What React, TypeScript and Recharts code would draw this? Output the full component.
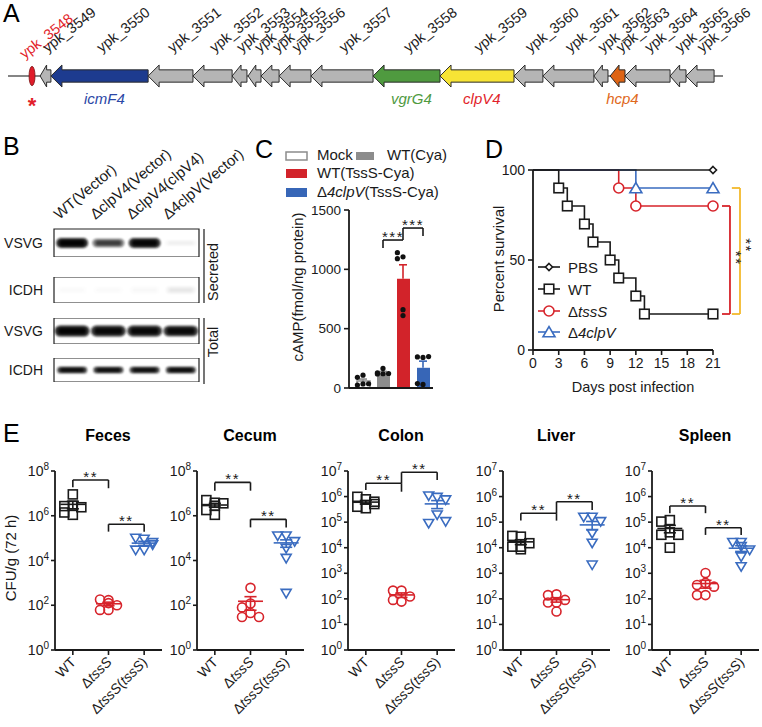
import React from 'react'
import {
  Bar,
  Cell,
  ComposedChart,
  Line,
  LineChart,
  ReferenceArea,
  ReferenceDot,
  ReferenceLine,
  Scatter,
  ScatterChart,
  XAxis,
  YAxis,
} from 'recharts'

const FONT = '"Liberation Sans", Arial, Helvetica, sans-serif'
const INK = '#1a1a1a'
const RED = '#d7242b'
const BLUE = '#3a6cc0'
const GRAY = '#8c8c8c'
const GOLD = '#f3b92c'

// ---- A: T6SS-4 locus, positions in kb from the left end of the drawn region
const geneLoci = [
  'ypk_3548', 'ypk_3549', 'ypk_3550', 'ypk_3551', 'ypk_3552', 'ypk_3553', 'ypk_3554',
  'ypk_3555', 'ypk_3556', 'ypk_3557', 'ypk_3558', 'ypk_3559', 'ypk_3560', 'ypk_3561',
  'ypk_3562', 'ypk_3563', 'ypk_3564', 'ypk_3565', 'ypk_3566',
]
const geneStart = [0.78, 1.19, 1.59, 5.19, 6.85, 8.3, 8.89, 9.37, 10.04, 11.22, 13.52, 16.0, 18.74, 19.81, 21.7, 22.3, 22.85, 24.52, 25.11]
const geneEnd = [1.0, 1.59, 5.19, 6.85, 8.3, 8.85, 9.37, 10.04, 11.22, 13.52, 16.0, 18.74, 19.81, 21.7, 22.22, 22.85, 24.52, 25.11, 26.15]
const geneAlias = ['', '', 'icmF4', '', '', '', '', '', '', '', 'vgrG4', 'clpV4', '', '', '', 'hcp4', '', '', '']
const locusLength = 26.48

// ---- B: western blot, relative band signal per lane
const laneLabels = ['WT(Vector)', 'ΔclpV4(Vector)', 'ΔclpV4(clpV4)', 'Δ4clpV(Vector)']
const blotSecretedVSVG = [1.0, 0.6, 0.97, 0.03]
const blotSecretedICDH = [0.01, 0.01, 0.015, 0.05]
const blotTotalVSVG = [1.0, 0.95, 0.95, 0.93]
const blotTotalICDH = [0.9, 0.88, 0.88, 0.9]

// ---- C: cAMP (fmol/ng protein)
const cGroups = ['Mock', 'WT(Cya)', 'WT(TssS-Cya)', 'Δ4clpV(TssS-Cya)']
const cMock = [108, 90, 34, 25, 36]
const cWTCya = [165, 128, 122, 120, 118]
const cWTTssS = [1105, 1140, 1090, 660, 610]
const cClpV = [258, 262, 265, 30, 37]
const cTicks = [0, 500, 1000, 1500]

// ---- D: percent survival
const survPBS = [{ day: 0, pct: 100 }, { day: 21, pct: 100 }]
const survWT = [
  { day: 0, pct: 100 }, { day: 3, pct: 90 }, { day: 4, pct: 80 }, { day: 6, pct: 70 }, { day: 7, pct: 60 },
  { day: 9, pct: 50 }, { day: 10, pct: 40 }, { day: 12, pct: 30 }, { day: 13, pct: 20 }, { day: 21, pct: 20 },
]
const survTssS = [{ day: 0, pct: 100 }, { day: 10, pct: 90 }, { day: 12, pct: 80 }, { day: 21, pct: 80 }]
const survClpV = [{ day: 0, pct: 100 }, { day: 12, pct: 90 }, { day: 21, pct: 90 }]
const dayTicks = [0, 3, 6, 9, 12, 15, 18, 21]
const pctTicks = [0, 50, 100]

// ---- E: CFU/g at 72 h
const eGroups = ['WT', 'ΔtssS', 'ΔtssS(tssS)']
const fecesWT = [9.0e6, 2.8e6, 2.7e6, 2.4e6, 1.1e6, 1.4e6]
const fecesTssS = [170, 180, 100, 125, 62, 62]
const fecesComp = [8.9e4, 9.8e4, 6.3e4, 2.9e4, 2.9e4, 5.0e4]
const cecumWT = [3.8e6, 5.0e6, 3.6e6, 1.8e6, 1.1e6, 2.8e6]
const cecumTssS = [600, 120, 80, 45, 30, 30]
const cecumComp = [1.25e5, 1.25e5, 7.0e4, 3.5e4, 1.25e4, 340]
const colonWT = [7.8e5, 9.8e5, 3.5e5, 4.0e5, 5.1e5, 6.3e5]
const colonTssS = [210, 210, 123, 78, 91]
const colonComp = [9.3e5, 1.05e6, 7.4e5, 1.9e5, 8.9e4, 1.05e5]
const liverWT = [2.7e4, 2.9e4, 1.5e4, 8.7e3, 1.1e4, 1.1e4]
const liverTssS = [150, 140, 91, 72, 72, 32]
const liverComp = [1.55e5, 1.55e5, 1.05e5, 3.6e4, 1.5e4, 2.1e3]
const spleenWT = [1.2e5, 1.05e5, 4.0e4, 3.2e4, 3.2e4, 1.0e4]
const spleenTssS = [1030, 420, 350, 300, 140, 140]
const spleenComp = [1.6e4, 1.6e4, 8.1e3, 1.1e4, 4.4e3, 1.8e3]
const decades8 = [1, 1e1, 1e2, 1e3, 1e4, 1e5, 1e6, 1e7, 1e8]
const decades7 = [1, 1e1, 1e2, 1e3, 1e4, 1e5, 1e6, 1e7]

const AX = { stroke: INK, strokeWidth: 1.8 }
const TK = { stroke: INK, strokeWidth: 1.6 }
const at = (left: number, top: number) => ({ position: 'absolute' as const, left, top })

const mean = (a: number[]) => a.reduce((s, v) => s + v, 0) / a.length
const sem = (a: number[]) => {
  const m = mean(a)
  return Math.sqrt(a.reduce((s, v) => s + (v - m) ** 2, 0) / (a.length - 1) / a.length)
}

// simple beeswarm: pick the nearest free horizontal slot for each point
const SLOTS = [0, -1, 1, -0.5, 0.5, -1.5, 1.5]
function swarm(vals: number[], center: number, toPx: (v: number) => number, unitPx: number, size: number) {
  const placed: { dx: number; py: number }[] = []
  return vals.map((v) => {
    const py = toPx(v)
    let best = 0
    let bestHits = Infinity
    for (const s of SLOTS) {
      const dx = s * size
      const hits = placed.filter((q) => Math.abs(q.py - py) < size && Math.abs(q.dx - dx) < size * 0.95).length
      if (hits < bestHits) {
        best = dx
        bestHits = hits
      }
      if (hits === 0) break
    }
    placed.push({ dx: best, py })
    return center + best / unitPx
  })
}

const ITALIC = /(4clpV|clpV4|tssS)/
function Rich({ text }: { text: string }) {
  return (
    <>
      {text
        .split(ITALIC)
        .filter(Boolean)
        .map((s, k) => (
          <tspan key={k} fontStyle={ITALIC.test(s) ? 'italic' : undefined}>
            {s}
          </tspan>
        ))}
    </>
  )
}

function Marker({ kind, cx, cy, color, fill, size }: any) {
  const h = size / 2
  const common = { fill, stroke: color, strokeWidth: 1.6 }
  if (kind === 'square') return <rect x={cx - h} y={cy - h} width={size} height={size} {...common} />
  if (kind === 'circle') return <circle cx={cx} cy={cy} r={h} {...common} />
  if (kind === 'diamond')
    return <polygon points={`${cx},${cy - h} ${cx + h},${cy} ${cx},${cy + h} ${cx - h},${cy}`} {...common} />
  if (kind === 'triUp')
    return <polygon points={`${cx - h},${cy + h * 0.8} ${cx + h},${cy + h * 0.8} ${cx},${cy - h * 0.9}`} {...common} />
  return <polygon points={`${cx - h},${cy - h * 0.8} ${cx + h},${cy - h * 0.8} ${cx},${cy + h * 0.9}`} {...common} />
}

// ---------------- A ----------------
const geneFill: Record<string, string> = { icmF4: '#1d3b8f', vgrG4: '#4f9a3f', clpV4: '#f7e435', hcp4: '#de6414' }
const aliasColor: Record<string, string> = { icmF4: '#2b47a6', vgrG4: '#4f9a3f', clpV4: '#e21f2b', hcp4: '#e0691c' }

function GeneArrow(p: any) {
  const { x, y, width, height, fill, lens } = p
  const mid = y + height / 2
  if (lens) return <ellipse cx={x + width / 2} cy={mid} rx={width / 2} ry={height * 0.44} fill={fill} stroke="#7a1010" strokeWidth={0.8} />
  const half = height * 0.28
  const head = Math.min(11, width * 0.6)
  const pts = [
    [x, mid], [x + head, y], [x + head, mid - half], [x + width, mid - half],
    [x + width, mid + half], [x + head, mid + half], [x + head, y + height],
  ]
  return <polygon points={pts.map((q) => q.join(',')).join(' ')} fill={fill} stroke="#2b2b2b" strokeWidth={1} />
}

function PanelA() {
  const backbone: [number, number][] = []
  let cursor = 0
  geneStart.forEach((s, i) => {
    if (s > cursor + 0.01) backbone.push([cursor, s])
    cursor = Math.max(cursor, geneEnd[i])
  })
  if (locusLength > cursor) backbone.push([cursor, locusLength])

  const labelX: number[] = []
  geneStart.forEach((s, i) => {
    const c = (s + geneEnd[i]) / 2 + 0.07
    labelX.push(i === 0 ? c - 0.35 : Math.max(c, labelX[i - 1] + 0.67))
  })
  const tags = geneLoci.map((locus, i) => ({ x: labelX[i], y: i === 0 ? 1.85 : 2.55, locus, first: i === 0 }))
  const names = geneAlias
    .map((alias, i) => ({ x: (geneStart[i] + geneEnd[i]) / 2 + 0.18, y: -3.11, alias }))
    .filter((d) => d.alias)

  return (
    <div style={at(0, 0)}>
      <ComposedChart width={762} height={130} margin={{ top: 22, right: 39, bottom: 0, left: 8 }}>
        <XAxis dataKey="x" type="number" domain={[0, locusLength]} hide />
        <YAxis dataKey="y" type="number" domain={[-6, 6]} hide />
        {backbone.map(([a, b], k) => (
          <ReferenceLine key={`bb${k}`} segment={[{ x: a, y: 0 }, { x: b, y: 0 }]} stroke="#333" strokeWidth={1.2} />
        ))}
        {geneLoci.map((locus, i) => (
          <ReferenceArea
            key={locus}
            x1={geneStart[i]}
            x2={geneEnd[i]}
            y1={-1.22}
            y2={1.22}
            shape={(p: any) => (
              <GeneArrow {...p} lens={i === 0} fill={i === 0 ? '#e01c2a' : geneFill[geneAlias[i]] || '#b5b5b5'} />
            )}
          />
        ))}
        <Scatter
          data={tags}
          isAnimationActive={false}
          shape={(p: any) => (
            <text
              transform={`translate(${p.cx},${p.cy}) rotate(-38)`}
              fontSize={14.5}
              fontFamily={FONT}
              fill={p.payload.first ? '#e21f2b' : '#222'}
            >
              {p.payload.locus}
            </text>
          )}
        />
        <Scatter
          data={names}
          isAnimationActive={false}
          shape={(p: any) => (
            <text x={p.cx} y={p.cy} textAnchor="middle" fontSize={15} fontStyle="italic" fontFamily={FONT} fill={aliasColor[p.payload.alias]}>
              {p.payload.alias}
            </text>
          )}
        />
        <ReferenceDot
          x={(geneStart[0] + geneEnd[0]) / 2}
          y={-4.1}
          shape={(p: any) => (
            <text x={p.cx} y={p.cy} textAnchor="middle" fontSize={22} fontWeight="bold" fontFamily={FONT} fill="#e21f2b">
              *
            </text>
          )}
        />
      </ComposedChart>
    </div>
  )
}

// ---------------- B ----------------
const strips = [
  { label: 'VSVG', signal: blotSecretedVSVG, top: 229, h: 28, bandW: 32, bandH: 10, lanes: true },
  { label: 'ICDH', signal: blotSecretedICDH, top: 277, h: 26, bandW: 30, bandH: 12, lanes: false },
  { label: 'VSVG', signal: blotTotalVSVG, top: 318, h: 26, bandW: 35, bandH: 11, lanes: false },
  { label: 'ICDH', signal: blotTotalICDH, top: 358, h: 24, bandW: 30, bandH: 7, lanes: false },
]
const LANES_H = 100

function LaneTick(p: any) {
  return (
    <text transform={`translate(${p.x - 13},${LANES_H - 9}) rotate(-40)`} fontSize={15} fontFamily={FONT} fill={INK}>
      {laneLabels[p.payload.value]}
    </text>
  )
}

function BlotStrip({ s, idx }: any) {
  const lanesH = s.lanes ? LANES_H : 0
  const extra = s.lanes ? 80 : 0
  const data = s.signal.map((v: number, lane: number) => ({ lane, y: 0.5, signal: v }))
  const fid = `blotblur${idx}`
  return (
    <div style={at(0, s.top - lanesH)}>
      <ScatterChart width={201 + extra} height={s.h + lanesH} margin={{ top: 0, right: 2 + extra, bottom: 0, left: 0 }}>
        <defs>
          <filter id={fid} x="-30%" y="-100%" width="160%" height="300%">
            <feGaussianBlur stdDeviation={1.2} />
          </filter>
        </defs>
        <XAxis
          dataKey="lane"
          type="number"
          domain={[-0.5, 3.5]}
          ticks={[0, 1, 2, 3]}
          orientation="top"
          hide={!s.lanes}
          height={lanesH}
          axisLine={false}
          tickLine={false}
          tick={(p: any) => <LaneTick {...p} />}
        />
        <YAxis
          dataKey="y"
          type="number"
          domain={[0, 1]}
          ticks={[0.5]}
          width={54}
          axisLine={false}
          tickLine={false}
          tickSize={0}
          tickMargin={11}
          tickFormatter={() => s.label}
          tick={{ fontSize: 14, fill: INK, fontFamily: FONT }}
        />
        <ReferenceArea x1={-0.5} x2={3.5} y1={0} y2={1} fill="none" stroke="#222" strokeWidth={1.2} />
        <Scatter
          data={data}
          isAnimationActive={false}
          shape={(p: any) => {
            const sig = p.payload.signal
            const h = s.bandH * (0.6 + 0.4 * sig)
            return (
              <g>
                <rect x={p.cx - s.bandW / 2} y={p.cy - h / 2} width={s.bandW} height={h} rx={h / 2} fill="#0d0d0d" opacity={sig * 0.85} filter={`url(#${fid})`} />
                <rect x={p.cx - s.bandW * 0.4} y={p.cy - h * 0.3} width={s.bandW * 0.8} height={h * 0.6} rx={h * 0.3} fill="#000" opacity={sig * 0.9} filter={`url(#${fid})`} />
              </g>
            )
          }}
        />
      </ScatterChart>
    </div>
  )
}

// ---------------- C ----------------
const cFill = ['#ffffff', GRAY, '#d2232a', '#3766b7']
const cStroke = [GRAY, GRAY, '#d2232a', '#3766b7']
const cBrackets = [
  { from: 1, to: 2, y: 1247, legFrom: 1180, legTo: 1247 },
  { from: 2, to: 3, y: 1348, legFrom: 1247, legTo: 1281 },
]

function bracketSegments(b: any, stroke: string, key: string, extra: any = {}) {
  const segs = [[{ x: b.from, y: b.y }, { x: b.to, y: b.y }]]
  if (b.legFrom !== b.y) segs.push([{ x: b.from, y: b.y }, { x: b.from, y: b.legFrom }])
  if (b.legTo !== b.y) segs.push([{ x: b.to, y: b.y }, { x: b.to, y: b.legTo }])
  return segs.map((seg, k) => (
    <ReferenceLine key={`${key}-${k}`} segment={seg} stroke={stroke} strokeWidth={1.6} ifOverflow="visible" {...extra} />
  ))
}

function PanelC() {
  const groups = [cMock, cWTCya, cWTTssS, cClpV]
  const bars = cGroups.map((name, i) => ({ name, mean: mean(groups[i]), err: sem(groups[i]) }))
  const toPx = (v: number) => (v * 178) / 1500
  const dots = groups.flatMap((vals, i) => swarm(vals, i, toPx, 20, 5.6).map((x, k) => ({ x, y: vals[k] })))
  const errs = bars.flatMap((b, i) => [
    <ReferenceLine key={`ev${i}`} xAxisId="n" segment={[{ x: i, y: b.mean }, { x: i, y: b.mean + b.err }]} stroke={cStroke[i]} strokeWidth={1.6} />,
    <ReferenceLine key={`ec${i}`} xAxisId="n" segment={[{ x: i - 0.2, y: b.mean + b.err }, { x: i + 0.2, y: b.mean + b.err }]} stroke={cStroke[i]} strokeWidth={1.6} />,
  ])
  return (
    <div style={at(250, 200)}>
      <ComposedChart width={190} height={200} data={bars} margin={{ top: 10, right: 7, bottom: 10, left: 54 }}>
        <XAxis xAxisId="cat" dataKey="name" type="category" height={2} tick={false} tickLine={false} axisLine={AX} padding={{ left: 4, right: 0 }} />
        <XAxis xAxisId="n" dataKey="x" type="number" domain={[-0.5, 3.5]} hide padding={{ left: 4, right: 0 }} />
        <YAxis
          dataKey="y"
          type="number"
          domain={[0, 1500]}
          ticks={cTicks}
          width={45}
          tickSize={5}
          tickMargin={3}
          axisLine={AX}
          tickLine={TK}
          tick={{ fontSize: 13.5, fill: INK, fontFamily: FONT }}
        />
        <Bar xAxisId="cat" dataKey="mean" barSize={13} isAnimationActive={false}>
          {bars.map((b, i) => (
            <Cell key={b.name} fill={cFill[i]} stroke={cStroke[i]} strokeWidth={i === 0 ? 1.5 : 0} />
          ))}
        </Bar>
        {errs}
        <Scatter
          xAxisId="n"
          data={dots}
          isAnimationActive={false}
          shape={(p: any) => <circle cx={p.cx} cy={p.cy} r={2.6} fill="#111" />}
        />
        {cBrackets.flatMap((b, k) => bracketSegments(b, INK, `cb${k}`, { xAxisId: 'n' }))}
        {cBrackets.map((b, k) => (
          <ReferenceDot
            key={`cs${k}`}
            xAxisId="n"
            x={(b.from + b.to) / 2}
            y={b.y}
            shape={(p: any) => (
              <text x={p.cx} y={p.cy + 2} textAnchor="middle" fontSize={15} letterSpacing={1.5} fontFamily={FONT} fill={INK}>
                ***
              </text>
            )}
          />
        ))}
      </ComposedChart>
    </div>
  )
}

// ---------------- D ----------------
const markerDot = (kind: string, color: string, size: number) => (p: any) =>
  p.index === 0 ? (
    <g key={`m${p.index}`} />
  ) : (
    <Marker key={`m${p.index}`} kind={kind} cx={p.cx} cy={p.cy} color={color} fill="#fff" size={size} />
  )

const dBrackets = [
  { color: RED, x1: 22.05, x2: 22.98, top: 80, bottom: 20, starX: 23.05, starY: 51 },
  { color: GOLD, x1: 23.2, x2: 24.15, top: 90, bottom: 20, starX: 24.25, starY: 58 },
]

function PanelD() {
  return (
    <div style={at(480, 150)}>
      <LineChart width={282} height={250} margin={{ top: 20, right: 49, bottom: 20, left: 13 }}>
        <XAxis
          dataKey="day"
          type="number"
          domain={[0, 21]}
          ticks={dayTicks}
          height={30}
          tickSize={5}
          tickMargin={3}
          axisLine={AX}
          tickLine={TK}
          tick={{ fontSize: 14, fill: INK, fontFamily: FONT }}
        />
        <YAxis
          type="number"
          domain={[0, 100]}
          ticks={pctTicks}
          width={40}
          tickSize={5}
          tickMargin={3}
          axisLine={AX}
          tickLine={TK}
          tick={{ fontSize: 14, fill: INK, fontFamily: FONT }}
        />
        <Line data={survTssS} dataKey="pct" type="stepAfter" stroke={RED} strokeWidth={1.6} dot={markerDot('circle', RED, 10)} isAnimationActive={false} />
        <Line data={survClpV} dataKey="pct" type="stepAfter" stroke={BLUE} strokeWidth={1.6} dot={markerDot('triUp', BLUE, 12)} isAnimationActive={false} />
        <Line data={survWT} dataKey="pct" type="stepAfter" stroke={INK} strokeWidth={1.6} dot={markerDot('square', INK, 9.5)} isAnimationActive={false} />
        <Line data={survPBS} dataKey="pct" type="stepAfter" stroke={INK} strokeWidth={1.6} dot={markerDot('diamond', INK, 7)} isAnimationActive={false} />
        {dBrackets.flatMap((b, k) => [
          <ReferenceLine key={`dt${k}`} segment={[{ x: b.x1, y: b.top }, { x: b.x2, y: b.top }]} stroke={b.color} strokeWidth={1.8} ifOverflow="visible" />,
          <ReferenceLine key={`dv${k}`} segment={[{ x: b.x2, y: b.top }, { x: b.x2, y: b.bottom }]} stroke={b.color} strokeWidth={1.8} ifOverflow="visible" />,
          <ReferenceLine key={`db${k}`} segment={[{ x: b.x1, y: b.bottom }, { x: b.x2, y: b.bottom }]} stroke={b.color} strokeWidth={1.8} ifOverflow="visible" />,
          <ReferenceDot
            key={`ds${k}`}
            x={b.starX}
            y={b.starY}
            ifOverflow="visible"
            shape={(p: any) => (
              <text transform={`translate(${p.cx},${p.cy}) rotate(90)`} textAnchor="middle" fontSize={15} letterSpacing={1.5} fontFamily={FONT} fill={INK}>
                **
              </text>
            )}
          />,
        ])}
      </LineChart>
    </div>
  )
}

// ---------------- E ----------------
const organs = [
  {
    title: 'Feces', plotLeft: 55, ticks: decades8, groups: [fecesWT, fecesTssS, fecesComp],
    brackets: [{ from: 0, to: 1, y: 7.6, legFrom: 7.27, legTo: 7.23 }, { from: 1, to: 2, y: 5.62, legFrom: 5.29, legTo: 5.29 }],
  },
  {
    title: 'Cecum', plotLeft: 197, ticks: decades8, groups: [cecumWT, cecumTssS, cecumComp],
    brackets: [{ from: 0, to: 1, y: 7.49, legFrom: 7.12, legTo: 7.12 }, { from: 1, to: 2, y: 5.84, legFrom: 5.48, legTo: 5.48 }],
  },
  {
    title: 'Colon', plotLeft: 348, ticks: decades7, groups: [colonWT, colonTssS, colonComp],
    brackets: [{ from: 0, to: 1, y: 6.52, legFrom: 6.26, legTo: 6.19 }, { from: 1, to: 2, y: 6.95, legFrom: 6.52, legTo: 6.65 }],
  },
  {
    title: 'Liver', plotLeft: 503, ticks: decades7, groups: [liverWT, liverTssS, liverComp],
    brackets: [{ from: 0, to: 1, y: 5.35, legFrom: 5.06, legTo: 5.06 }, { from: 1, to: 2, y: 5.8, legFrom: 5.35, legTo: 5.47 }],
  },
  {
    title: 'Spleen', plotLeft: 652, ticks: decades7, groups: [spleenWT, spleenTssS, spleenComp],
    brackets: [{ from: 0, to: 1, y: 5.63, legFrom: 5.35, legTo: 5.35 }, { from: 1, to: 2, y: 4.78, legFrom: 4.5, legTo: 4.5 }],
  },
]
const eColor = [INK, RED, BLUE]
const eKind = ['square', 'circle', 'triDown']

function PowTick(p: any) {
  const e = Math.round(Math.log10(p.payload.value))
  return (
    <text x={p.x} y={p.y} dy={5} textAnchor="end" fontSize={14} fill={INK} fontFamily={FONT}>
      10
      <tspan dy={-6} fontSize={10}>
        {e}
      </tspan>
    </text>
  )
}

function GroupTick(p: any) {
  return (
    <text transform={`translate(${p.x + 4},${p.y + 6}) rotate(-45)`} textAnchor="end" fontSize={14} fill={INK} fontFamily={FONT}>
      <Rich text={eGroups[p.payload.value]} />
    </text>
  )
}

function OrganPlot({ o }: any) {
  const maxExp = o.ticks.length - 1
  const ppd = 179 / maxExp
  const toPx = (v: number) => Math.log10(v) * ppd
  const stats = o.groups.map((vals: number[]) => {
    const m = mean(vals)
    const e = sem(vals)
    return { m, lo: Math.max(m - e, m * 0.1), hi: m + e }
  })
  const summary = stats.flatMap((s: any, g: number) =>
    [
      [{ x: g - 0.35, y: s.m }, { x: g + 0.35, y: s.m }],
      [{ x: g, y: s.lo }, { x: g, y: s.hi }],
      [{ x: g - 0.17, y: s.lo }, { x: g + 0.17, y: s.lo }],
      [{ x: g - 0.17, y: s.hi }, { x: g + 0.17, y: s.hi }],
    ].map((seg, k) => <ReferenceLine key={`s${g}-${k}`} segment={seg} stroke={eColor[g]} strokeWidth={1.6} />),
  )
  const brackets = o.brackets.map((b: any) => ({
    from: b.from, to: b.to, y: 10 ** b.y, legFrom: 10 ** b.legFrom, legTo: 10 ** b.legTo,
  }))
  return (
    <div style={at(o.plotLeft - 50, 460)}>
      <ScatterChart width={163} height={267} margin={{ top: 11, right: 6, bottom: 0, left: 0 }}>
        <XAxis
          dataKey="x"
          type="number"
          domain={[-0.5, 2.5]}
          ticks={[0, 1, 2]}
          height={77}
          tickSize={5}
          tickMargin={2}
          axisLine={AX}
          tickLine={TK}
          tick={(p: any) => <GroupTick {...p} />}
        />
        <YAxis
          dataKey="y"
          type="number"
          scale="log"
          domain={[1, o.ticks[maxExp]]}
          ticks={o.ticks}
          width={50}
          tickSize={4}
          tickMargin={2}
          axisLine={AX}
          tickLine={TK}
          tick={(p: any) => <PowTick {...p} />}
        />
        {summary}
        {o.groups.map((vals: number[], g: number) => (
          <Scatter
            key={`g${g}`}
            data={swarm(vals, g, toPx, 35.7, 8.5).map((x, k) => ({ x, y: vals[k] }))}
            isAnimationActive={false}
            shape={(p: any) => <Marker kind={eKind[g]} cx={p.cx} cy={p.cy} color={eColor[g]} fill="none" size={g === 2 ? 10 : 9} />}
          />
        ))}
        {brackets.flatMap((b: any, k: number) => bracketSegments(b, INK, `eb${k}`))}
        {brackets.map((b: any, k: number) => (
          <ReferenceDot
            key={`es${k}`}
            x={(b.from + b.to) / 2}
            y={b.y}
            shape={(p: any) => (
              <text x={p.cx} y={p.cy + 2} textAnchor="middle" fontSize={15} letterSpacing={1.5} fontFamily={FONT} fill={INK}>
                **
              </text>
            )}
          />
        ))}
      </ScatterChart>
    </div>
  )
}

// ---------------- free text: panel letters, legends, axis titles ----------------
const panelLetters = [
  { t: 'A', x: 3, y: 22 },
  { t: 'B', x: 3, y: 155 },
  { t: 'C', x: 255, y: 158 },
  { t: 'D', x: 485, y: 158 },
  { t: 'E', x: 3, y: 442 },
]
const cLegend = [
  { label: 'Mock', x: 286, y: 152, w: 21, h: 8, tx: 317 },
  { label: 'WT(Cya)', x: 356, y: 152, w: 18, h: 8, tx: 387 },
  { label: 'WT(TssS-Cya)', x: 286, y: 169, w: 21, h: 9, tx: 317 },
  { label: 'Δ4clpV(TssS-Cya)', x: 286, y: 188, w: 21, h: 9, tx: 317 },
]
const dLegend = [
  { label: 'PBS', kind: 'diamond', color: INK, size: 7 },
  { label: 'WT', kind: 'square', color: INK, size: 9.5 },
  { label: 'ΔtssS', kind: 'circle', color: RED, size: 10 },
  { label: 'Δ4clpV', kind: 'triUp', color: BLUE, size: 12 },
]
const dLegendY = [267, 289, 311, 332]

function Overlay() {
  return (
    <svg width={762} height={727} style={{ position: 'absolute', left: 0, top: 0, pointerEvents: 'none' }} fontFamily={FONT}>
      {panelLetters.map((p) => (
        <text key={p.t} x={p.x} y={p.y} fontSize={25} fill="#000">
          {p.t}
        </text>
      ))}
      {/* B */}
      <line x1={204} y1={229} x2={204} y2={303} stroke={INK} strokeWidth={1.2} />
      <line x1={204} y1={318} x2={204} y2={384} stroke={INK} strokeWidth={1.2} />
      <text transform="translate(218,272) rotate(-90)" textAnchor="middle" fontSize={14.5} fill={INK}>
        Secreted
      </text>
      <text transform="translate(218,342) rotate(-90)" textAnchor="middle" fontSize={14.5} fill={INK}>
        Total
      </text>
      {/* C */}
      {cLegend.map((l, i) => (
        <g key={l.label}>
          <rect x={l.x} y={l.y} width={l.w} height={l.h} fill={cFill[i]} stroke={cStroke[i]} strokeWidth={i === 0 ? 1.5 : 0} />
          <text x={l.tx} y={l.y + l.h} fontSize={15} fill={INK}>
            <Rich text={l.label} />
          </text>
        </g>
      ))}
      <text transform="translate(303,287) rotate(-90)" textAnchor="middle" fontSize={15} fill={INK}>
        cAMP(fmol/ng protein)
      </text>
      {/* D */}
      {dLegend.map((l, i) => (
        <g key={l.label}>
          <line x1={538} y1={dLegendY[i]} x2={560} y2={dLegendY[i]} stroke={l.color} strokeWidth={1.6} />
          <Marker kind={l.kind} cx={549} cy={dLegendY[i]} color={l.color} fill="#fff" size={l.size} />
          <text x={568} y={dLegendY[i] + 5.5} fontSize={15} fill={INK}>
            <Rich text={l.label} />
          </text>
        </g>
      ))}
      <text transform="translate(504,259) rotate(-90)" textAnchor="middle" fontSize={15} fill={INK}>
        Percent survival
      </text>
      <text x={633} y={392} textAnchor="middle" fontSize={14.5} fill={INK}>
        Days post infection
      </text>
      {/* E */}
      {organs.map((o) => (
        <text key={o.title} x={o.plotLeft + 53} y={441} textAnchor="middle" fontSize={16} fontWeight="bold" fill="#000">
          {o.title}
        </text>
      ))}
      <text transform="translate(15.5,558) rotate(-90)" textAnchor="middle" fontSize={15} fill={INK}>
        CFU/g (72 h)
      </text>
    </svg>
  )
}

export default function App() {
  return (
    <div style={{ position: 'absolute', left: 0, top: 0, width: 762, height: 727, background: '#fff', overflow: 'hidden', fontFamily: FONT }}>
      <PanelA />
      {strips.map((s, i) => (
        <BlotStrip key={i} s={s} idx={i} />
      ))}
      <PanelC />
      <PanelD />
      {organs.map((o) => (
        <OrganPlot key={o.title} o={o} />
      ))}
      <Overlay />
    </div>
  )
}
